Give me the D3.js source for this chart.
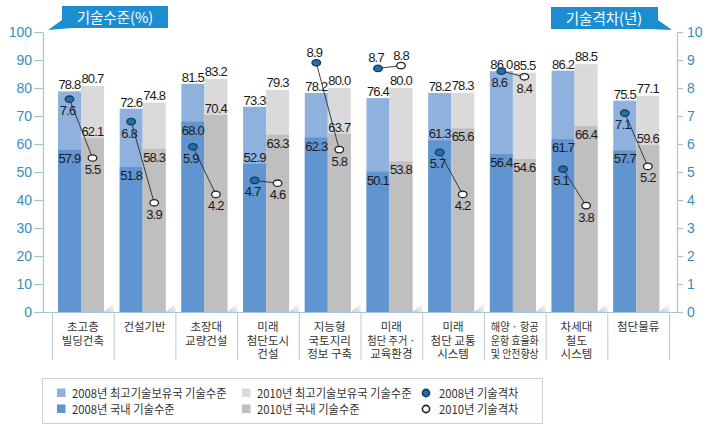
<!DOCTYPE html>
<html><head><meta charset="utf-8">
<script src="https://cdn.jsdelivr.net/npm/d3@7"></script>
<style>
body{margin:0;background:#fff;}
svg{display:block;}
</style></head><body>
<svg id="chart" width="714" height="432"></svg>
<script>
// ---------------- DATA ----------------
const categories = [
  ["초고층","빌딩건축"],
  ["건설기반"],
  ["초장대","교량건설"],
  ["미래","첨단도시","건설"],
  ["지능형","국토지리","정보 구축"],
  ["미래","첨단 주거 ·","교육환경"],
  ["미래","첨단 교통","시스템"],
  ["해양 · 항공","운항 효율화","및 안전향상"],
  ["차세대","철도","시스템"],
  ["첨단물류"]
];
const top2008 = [78.8,72.6,81.5,73.3,78.2,76.4,78.2,86.0,86.2,75.5];
const dom2008 = [57.9,51.8,68.0,52.9,62.3,50.1,61.3,56.4,61.7,57.7];
const top2010 = [80.7,74.8,83.2,79.3,80.0,80.0,78.3,85.5,88.5,77.1];
const dom2010 = [62.1,58.3,70.4,63.3,63.7,53.8,65.6,54.6,66.4,59.6];
const gap2008 = [7.6,6.8,5.9,4.7,8.9,8.7,5.7,8.6,5.1,7.1];
const gap2010 = [5.5,3.9,4.2,4.6,5.8,8.8,4.2,8.4,3.8,5.2];
const leftTicks  = [0,10,20,30,40,50,60,70,80,90,100];
const rightTicks = [0,1,2,3,4,5,6,7,8,9,10];
const leftTitle = "기술수준(%)";
const rightTitle = "기술격차(년)";
const legendItems = [
  {label:"2008년 최고기술보유국 기술수준", type:"rect", key:"top2008"},
  {label:"2008년 국내 기술수준", type:"rect", key:"dom2008"},
  {label:"2010년 최고기술보유국 기술수준", type:"rect", key:"top2010"},
  {label:"2010년 국내 기술수준", type:"rect", key:"dom2010"},
  {label:"2008년 기술격차", type:"dot", key:"gap2008"},
  {label:"2010년 기술격차", type:"dot", key:"gap2010"}
];
// layout choice: where the 2010 domestic label sits (above segment top or inside)
const dom2010LabelAbove = [true,false,true,false,true,false,false,false,false,true];

// ---------------- STYLE ----------------
const colors = {top2008:"#8fb1de", dom2008:"#6095d2", top2010:"#dadada", dom2010:"#bfbfbf",
  gap2008:"#2270ab", gap2010:"#ffffff"};
const axisColor = "#a6c4d8", tickText = "#3a8db6", titleBlue = "#1b8dd0";
const numFont = "'Liberation Sans', Arial, sans-serif";
const korFont = "'Noto Sans CJK KR', 'Noto Sans', sans-serif";

const svg = d3.select("#chart");
const y0 = 312, yTop = 32, axL = 43, axR = 677;
const yL = d3.scaleLinear().domain([0,100]).range([y0,yTop]);
const yR = d3.scaleLinear().domain([0,10]).range([y0,yTop]);
const x = d3.scaleBand().domain(d3.range(categories.length)).range([52,669]);
const xs = d3.scaleBand().domain(["2008","2010"]).range([6,52]);
const bw = xs.bandwidth();

// gradient for floor shadow
const defs = svg.append("defs");
const g1 = defs.append("linearGradient").attr("id","shadow").attr("x1","0").attr("y1","1").attr("x2","1").attr("y2","0");
g1.append("stop").attr("offset","0").attr("stop-color","#c9c9c9");
g1.append("stop").attr("offset","1").attr("stop-color","#ffffff");

// ---------------- BARS ----------------
const cat = svg.append("g").selectAll("g").data(d3.range(categories.length)).join("g")
  .attr("transform", i => `translate(${x(i)},0)`);

cat.append("path").attr("fill","url(#shadow)")
  .attr("d", () => { const r = xs("2010")+bw; return `M${r},${y0} L${r+10},${y0-9} L${r+10},${y0} Z`; });

cat.append("rect").attr("x", xs("2008")).attr("width", bw)
  .attr("y", i => yL(top2008[i])).attr("height", i => y0 - yL(top2008[i])).attr("fill", colors.top2008);
cat.append("rect").attr("x", xs("2008")).attr("width", bw)
  .attr("y", i => yL(dom2008[i])).attr("height", i => y0 - yL(dom2008[i])).attr("fill", colors.dom2008);
cat.append("rect").attr("x", xs("2010")).attr("width", bw)
  .attr("y", i => yL(top2010[i])).attr("height", i => y0 - yL(top2010[i])).attr("fill", colors.top2010);
cat.append("rect").attr("x", xs("2010")).attr("width", bw)
  .attr("y", i => yL(dom2010[i])).attr("height", i => y0 - yL(dom2010[i])).attr("fill", colors.dom2010);

// ---------------- AXES ----------------
function styleAxis(g){
  g.selectAll(".domain").attr("stroke", axisColor).attr("stroke-width",1.2);
  g.selectAll(".tick line").attr("stroke", axisColor).attr("stroke-width",1.2);
  g.selectAll(".tick text").attr("fill", tickText).attr("font-family", numFont).attr("font-size", 14);
}
svg.append("g").attr("transform",`translate(${axL},0)`)
  .call(d3.axisLeft(yL).tickValues(leftTicks).tickSize(9).tickSizeOuter(0).tickPadding(2))
  .call(styleAxis);
svg.append("g").attr("transform",`translate(${axR},0)`)
  .call(d3.axisRight(yR).tickValues(rightTicks).tickSize(6).tickSizeOuter(0).tickPadding(4))
  .call(styleAxis);

// baseline & separators
svg.append("line").attr("x1",axL).attr("x2",axR).attr("y1",y0+0.5).attr("y2",y0+0.5)
  .attr("stroke",axisColor).attr("stroke-width",1.2);
svg.append("g").selectAll("line").data(d3.range(categories.length+1)).join("line")
  .attr("x1", i => (i < categories.length ? x(i) : x.range()[1]) + 0.5)
  .attr("x2", i => (i < categories.length ? x(i) : x.range()[1]) + 0.5)
  .attr("y1", y0).attr("y2", 360).attr("stroke","#b9c8d3").attr("stroke-width",1);

// category labels (one text per line)
const catG = svg.append("g").attr("font-family", korFont).attr("font-size", 11.5)
  .attr("fill","#333").attr("text-anchor","middle");
d3.range(categories.length).forEach(i => {
  categories[i].forEach((ln, k) => {
    const t = catG.append("text").attr("x", x(i) + x.bandwidth()/2).attr("y", 331 + k*13.5).text(ln);
    const w = t.node().getComputedTextLength();
    if (w > 52) t.attr("textLength", 48).attr("lengthAdjust","spacingAndGlyphs");
  });
});

// ---------------- VALUE LABELS ----------------
const vl = svg.append("g").attr("font-family", numFont).attr("font-size", 13)
  .attr("fill","#1a1a1a").attr("text-anchor","middle").attr("letter-spacing", -0.8);
d3.range(categories.length).forEach(i => {
  const c8 = x(i) + xs("2008") + bw/2, c10 = x(i) + xs("2010") + bw/2;
  vl.append("text").attr("x", c8).attr("y", yL(top2008[i]) - 2).text(top2008[i].toFixed(1));
  vl.append("text").attr("x", c10).attr("y", yL(top2010[i]) - 3).text(top2010[i].toFixed(1));
  // domestic 2008 label: inside below top, unless the 2008 gap dot sits there
  const dTop = yL(dom2008[i]), dDot = yR(gap2008[i]);
  const clash = dDot > dTop - 2 && dDot < dTop + 20;
  vl.append("text").attr("x", c8).attr("y", clash ? dTop - 2 : dTop + 13).text(dom2008[i].toFixed(1));
  vl.append("text").attr("x", c10)
    .attr("y", dom2010LabelAbove[i] ? yL(dom2010[i]) - 2 : yL(dom2010[i]) + 13)
    .text(dom2010[i].toFixed(1));
});

// ---------------- GAP LINES & DOTS ----------------
const gl = svg.append("g");
d3.range(categories.length).forEach(i => {
  const c8 = x(i) + xs("2008") + bw/2, c10 = x(i) + xs("2010") + bw/2;
  gl.append("line").attr("x1", c8).attr("y1", yR(gap2008[i])).attr("x2", c10).attr("y2", yR(gap2010[i]))
    .attr("stroke","#2a2a2a").attr("stroke-width",0.9);
});
const dots = [
  {vals: gap2008, key:"2008", fill: colors.gap2008, stroke:"#163a5c", top: top2008, dx:-2},
  {vals: gap2010, key:"2010", fill: colors.gap2010, stroke:"#222", top: top2010, dx:0}
];
dots.forEach(s => {
  d3.range(categories.length).forEach(i => {
    const cx = x(i) + xs(s.key) + bw/2, cy = yR(s.vals[i]);
    gl.append("ellipse").attr("cx", cx).attr("cy", cy).attr("rx", 4.3).attr("ry", 3.2)
      .attr("fill", s.fill).attr("stroke", s.stroke).attr("stroke-width", 1.3);
    const above = cy < yL(s.top[i]) - 8;
    vl.append("text").attr("x", cx + s.dx).attr("y", above ? cy - 6 : cy + 16).text(s.vals[i].toFixed(1));
  });
});

// ---------------- TITLE BOXES ----------------
svg.append("path").attr("fill", titleBlue)
  .attr("d","M62,6 L168,6 L168,28 L72,28 L48,30 L62,20 Z");
svg.append("text").attr("x",115).attr("y",23).attr("text-anchor","middle")
  .attr("font-family",korFont).attr("font-size",14.5).attr("fill","#fff").text(leftTitle);
svg.append("path").attr("fill", titleBlue)
  .attr("d","M551,7 L658,7 L658,20 L672,30 L648,29 L551,29 Z");
svg.append("text").attr("x",604).attr("y",24).attr("text-anchor","middle")
  .attr("font-family",korFont).attr("font-size",14.5).attr("fill","#fff").text(rightTitle);

// ---------------- LEGEND ----------------
const lg = svg.append("g");
lg.append("rect").attr("x",42.5).attr("y",378.5).attr("width",500).attr("height",45)
  .attr("fill","#fff").attr("stroke","#c9d2da").attr("stroke-width",1);
const legPos = [[57,393],[57,409],[242,393],[242,409],[423,393],[423,409]];
legendItems.forEach((it, k) => {
  const [lx, ly] = legPos[k];
  let tx;
  if (it.type === "rect") {
    lg.append("rect").attr("x", lx).attr("y", ly-4.5).attr("width", 8.5).attr("height", 8.5).attr("fill", colors[it.key]);
    tx = lx + 15;
  } else {
    lg.append("circle").attr("cx", lx + 3).attr("cy", ly).attr("r", 3.6)
      .attr("fill", colors[it.key]).attr("stroke", it.key === "gap2008" ? "#163a5c" : "#222").attr("stroke-width", 1.6);
    tx = lx + 16;
  }
  const t = lg.append("text").attr("x", tx).attr("y", ly + 4.5).attr("font-family", korFont)
    .attr("font-size", 12).attr("fill","#333").text(it.label);
  const w = t.node().getComputedTextLength();
  t.attr("textLength", w * 0.94).attr("lengthAdjust", "spacingAndGlyphs");
});
</script>
</body></html>
